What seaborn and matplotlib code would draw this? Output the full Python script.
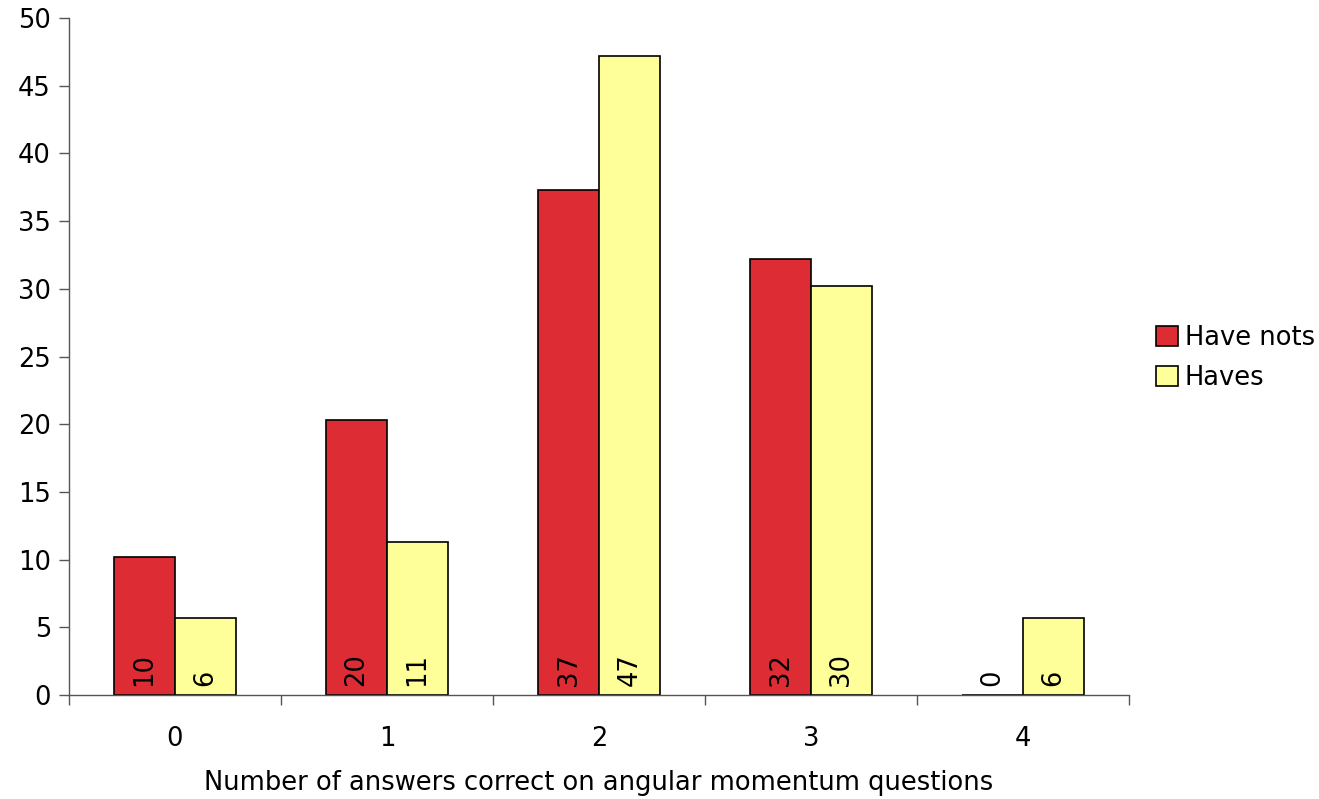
import matplotlib
matplotlib.use("Agg")
import matplotlib.pyplot as plt
import seaborn as sns
import pandas as pd
from matplotlib.patches import Patch
from matplotlib.ticker import FixedLocator

# Percentage of students by number of correct answers
categories = ["0", "1", "2", "3", "4"]
have_nots = [10.2, 20.3, 37.3, 32.2, 0.0]
haves = [5.7, 11.3, 47.2, 30.2, 5.7]
series_names = ["Have nots", "Haves"]
y_ticks = [0, 5, 10, 15, 20, 25, 30, 35, 40, 45, 50]

colors = ["#DD2C33", "#FFFF99"]

df = pd.DataFrame({
    "answers": categories * 2,
    "pct": have_nots + haves,
    "group": [series_names[0]] * len(categories) + [series_names[1]] * len(categories),
})

sns.set_theme(style="white")
plt.rcParams["font.family"] = ["DejaVu Sans"]
plt.rcParams.update({
    "text.color": "black",
    "axes.labelcolor": "black",
    "xtick.color": "black",
    "ytick.color": "black",
    "xtick.bottom": True,
    "ytick.left": True,
})

fig = plt.figure(figsize=(13.19, 7.99), dpi=100)
ax = fig.add_axes([69 / 1319, 1 - 695 / 799, 1060 / 1319, 677 / 799])

sns.barplot(data=df, x="answers", y="pct", hue="group", order=categories,
            hue_order=series_names, palette=colors, width=0.575, gap=0,
            edgecolor="black", linewidth=1.2, saturation=1, legend=False, ax=ax)

fs = 18.5
# value labels along the bottom of each bar
for container, vals in zip(ax.containers, [have_nots, haves]):
    for patch, v in zip(container.patches, vals):
        cx = patch.get_x() + patch.get_width() / 2
        ax.annotate(f"{v:.0f}", xy=(cx, 0), xytext=(0, 6.5), textcoords="offset points",
                    rotation=90, ha="center", va="bottom", fontsize=fs, color="black")

ax.set_xlim(-0.5, len(categories) - 0.5)
ax.set_ylim(0, 50)
ax.set_yticks(y_ticks)
ax.set_yticklabels([str(t) for t in y_ticks], fontsize=fs)
ax.set_xticks(range(len(categories)))
ax.set_xticklabels(categories, fontsize=fs)
ax.xaxis.set_minor_locator(FixedLocator([i - 0.5 for i in range(len(categories) + 1)]))
ax.tick_params(axis="x", which="major", length=0, pad=22)
ax.tick_params(axis="x", which="minor", length=7, width=1, color="#555555", direction="out")
ax.tick_params(axis="y", length=7, width=1, color="#555555", direction="out", pad=6)
ax.set_ylabel("")
ax.set_xlabel("Number of answers correct on angular momentum questions", fontsize=fs, labelpad=13)

for side in ["top", "right"]:
    ax.spines[side].set_visible(False)
for side in ["left", "bottom"]:
    ax.spines[side].set_color("#555555")
    ax.spines[side].set_linewidth(1)

handles = [Patch(facecolor=c, edgecolor="black", linewidth=1.2) for c in colors]
fig.legend(handles, series_names, loc="center left", bbox_to_anchor=(1146 / 1319, 1 - 358 / 799),
           frameon=False, fontsize=fs, handlelength=0.85, handleheight=0.85,
           handletextpad=0.25, labelspacing=0.55, borderaxespad=0)

fig.savefig("out.png", dpi=100, facecolor="white")
